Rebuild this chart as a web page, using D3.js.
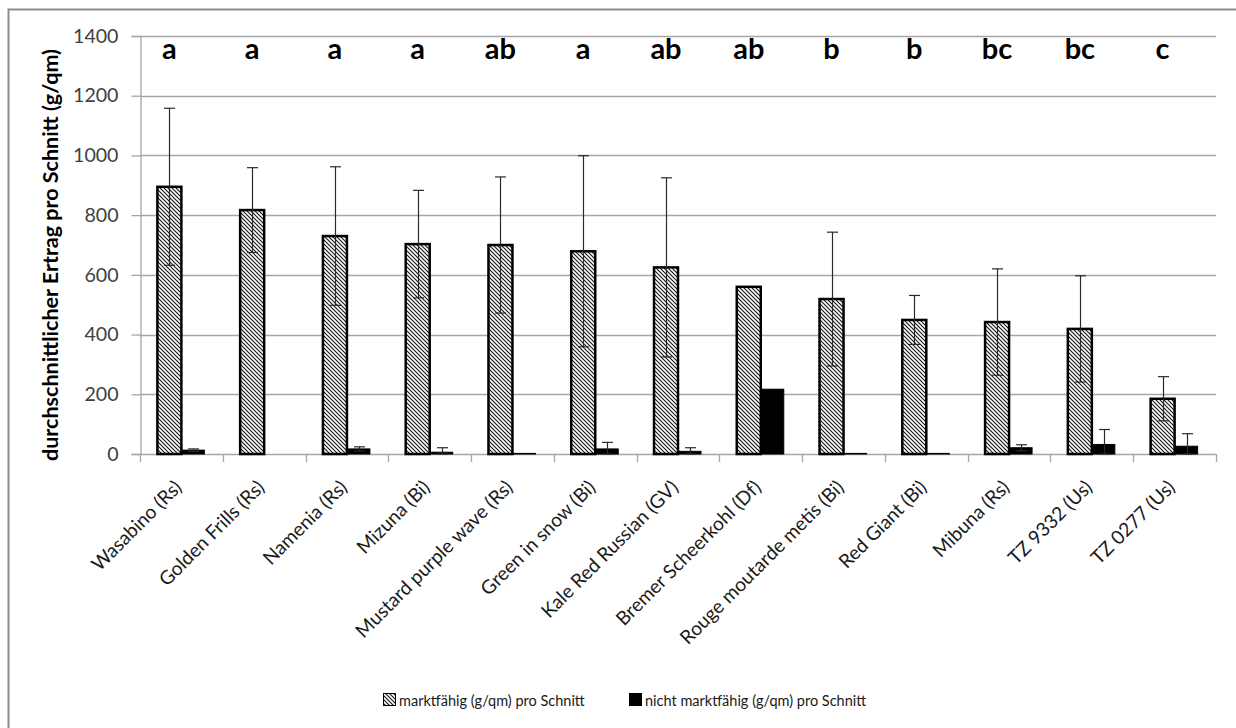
<!DOCTYPE html>
<html>
<head>
<meta charset="utf-8">
<script src="https://cdn.jsdelivr.net/npm/d3@7"></script>
<style>
  body { margin: 0; background: #fff; }
  svg { display: block; font-family: Lato, "Open Sans", sans-serif; }
</style>
</head>
<body>
<svg id="chart" width="1236" height="728"></svg>
<script>
// Sorten und Ertragswerte (g/qm pro Schnitt)
const sorten = [
  "Wasabino (Rs)", "Golden Frills (Rs)", "Namenia (Rs)", "Mizuna (Bi)",
  "Mustard purple wave (Rs)", "Green in snow (Bi)", "Kale Red Russian (GV)",
  "Bremer Scheerkohl (Df)", "Rouge moutarde metis (Bi)", "Red Giant (Bi)",
  "Mibuna (Rs)", "TZ 9332 (Us)", "TZ 0277 (Us)"
];
const marktfaehig   = [895, 817, 730, 703, 700, 679, 625, 560, 519, 449, 442, 419, 185];
const marktfaehigSD = [263, 142, 232, 180, 228, 320, 300, 0, 224, 82, 178, 178, 74];
const nichtMarktfaehig   = [13, 0, 17, 6, 2, 17, 9, 217, 2, 2, 21, 32, 26];
const nichtMarktfaehigSD = [4, 0, 7, 15, 0, 22, 12, 0, 0, 0, 10, 50, 42];
const gruppen = ["a", "a", "a", "a", "ab", "a", "ab", "ab", "b", "b", "bc", "bc", "c"];
const yTicks = [0, 200, 400, 600, 800, 1000, 1200, 1400];
const legendeText = ["marktfähig (g/qm) pro Schnitt", "nicht marktfähig (g/qm) pro Schnitt"];
const yTitel = "durchschnittlicher Ertrag pro Schnitt (g/qm)";

const svg = d3.select("#chart");
const plot = { left: 140, right: 1216, top: 36, bottom: 454 };
const barW = 24;

// Schraffur für marktfähige Erträge
const defs = svg.append("defs");
const pat = defs.append("pattern")
  .attr("id", "schraffur")
  .attr("patternUnits", "userSpaceOnUse")
  .attr("width", 4).attr("height", 4);
pat.append("rect").attr("width", 4).attr("height", 4).attr("fill", "#fff");
pat.append("path")
  .attr("d", "M-1,-1 L5,5 M-1,3 L1,5 M3,-1 L5,1")
  .attr("stroke", "#1a1a1a").attr("stroke-width", 1.2);

// Rahmen des Diagrammbereichs
svg.append("rect")
  .attr("x", 8.5).attr("y", 9.5).attr("width", 1240).attr("height", 740)
  .attr("fill", "none").attr("stroke", "#8c8c8c").attr("stroke-width", 2);

const x = d3.scaleBand().domain(sorten).range([plot.left, plot.right]);
const y = d3.scaleLinear().domain([0, 1400]).range([plot.bottom, plot.top]);

// Gitterlinien
svg.append("g")
  .selectAll("line").data(yTicks.filter(t => t > 0)).join("line")
  .attr("x1", plot.left).attr("x2", plot.right)
  .attr("y1", d => Math.round(y(d)) + 0.5).attr("y2", d => Math.round(y(d)) + 0.5)
  .attr("stroke", "#a6a6a6").attr("stroke-width", 1.3);

// Y-Achse
const yAxis = svg.append("g")
  .attr("transform", `translate(${plot.left + 0.5},0)`)
  .call(d3.axisLeft(y).tickValues(yTicks).tickSize(9).tickPadding(13).tickFormat(d3.format("d")));
yAxis.select(".domain").attr("stroke", "#a6a6a6").attr("stroke-width", 1.3);
yAxis.selectAll(".tick line").attr("stroke", "#a6a6a6").attr("stroke-width", 1.3);
yAxis.selectAll(".tick text").attr("font-size", 19.6).attr("fill", "#404040")
  .attr("font-family", "Lato, sans-serif");

// X-Achse mit Markierungen an den Kategoriegrenzen
const xg = svg.append("g");
xg.append("line")
  .attr("x1", plot.left).attr("x2", plot.right)
  .attr("y1", plot.bottom + 0.5).attr("y2", plot.bottom + 0.5)
  .attr("stroke", "#a6a6a6").attr("stroke-width", 1.3);
const grenzen = sorten.map(s => x(s)).concat([x(sorten[sorten.length - 1]) + x.bandwidth()]);
xg.selectAll("line.grenze").data(grenzen).join("line")
  .attr("class", "grenze")
  .attr("x1", d => Math.round(d) + 0.5).attr("x2", d => Math.round(d) + 0.5)
  .attr("y1", plot.bottom).attr("y2", plot.bottom + 8)
  .attr("stroke", "#a6a6a6").attr("stroke-width", 1.3);
xg.selectAll("text").data(sorten).join("text")
  .attr("transform", d => `translate(${x(d) + x.bandwidth() / 2 - 8},${plot.bottom + 25}) rotate(-45)`)
  .attr("text-anchor", "end")
  .attr("dy", "0.7em")
  .attr("font-size", 19.2)
  .attr("fill", "#1a1a1a")
  .text(d => d);

// Balken
const cx = d => x(d) + x.bandwidth() / 2;
const balken = svg.append("g");
balken.selectAll("rect.nm").data(sorten).join("rect")
  .attr("class", "nm")
  .attr("x", d => cx(d))
  .attr("width", barW - 1)
  .attr("y", (d, i) => y(nichtMarktfaehig[i]))
  .attr("height", (d, i) => y(0) - y(nichtMarktfaehig[i]))
  .attr("fill", "#000")
  .attr("stroke", (d, i) => nichtMarktfaehig[i] > 0 ? "#000" : "none")
  .attr("stroke-width", 1);
balken.selectAll("rect.m").data(sorten).join("rect")
  .attr("class", "m")
  .attr("x", d => cx(d) - barW)
  .attr("width", barW)
  .attr("y", (d, i) => y(marktfaehig[i]))
  .attr("height", (d, i) => y(0) - y(marktfaehig[i]))
  .attr("fill", "url(#schraffur)")
  .attr("stroke", "#000")
  .attr("stroke-width", 2.5);

// Fehlerbalken (Standardabweichung)
function fehlerbalken(werte, sd, versatz) {
  const g = svg.append("g").attr("stroke", "#2a2a2a").attr("stroke-width", 1.2);
  sorten.forEach((s, i) => {
    if (!sd[i]) return;
    const xm = Math.round(cx(s) + versatz) + 0.5;
    const y1 = y(Math.max(0, werte[i] - sd[i]));
    const y2 = y(werte[i] + sd[i]);
    g.append("line").attr("x1", xm).attr("x2", xm).attr("y1", y1).attr("y2", y2);
    g.append("line").attr("x1", xm - 5.5).attr("x2", xm + 5.5).attr("y1", y2).attr("y2", y2);
    g.append("line").attr("x1", xm - 5.5).attr("x2", xm + 5.5).attr("y1", y1).attr("y2", y1);
  });
}
fehlerbalken(marktfaehig, marktfaehigSD, -barW / 2);
fehlerbalken(nichtMarktfaehig, nichtMarktfaehigSD, barW / 2);

// Signifikanzgruppen
svg.append("g").selectAll("text").data(sorten).join("text")
  .attr("x", d => cx(d) - barW / 2)
  .attr("y", 59)
  .attr("text-anchor", "middle")
  .attr("font-size", 29)
  .attr("font-weight", "bold")
  .attr("fill", "#000")
  .text((d, i) => gruppen[i]);

// Achsentitel
svg.append("text")
  .attr("transform", `translate(58,${(plot.top + plot.bottom) / 2 + 10}) rotate(-90)`)
  .attr("text-anchor", "middle")
  .attr("font-size", 21.5)
  .attr("font-weight", "bold")
  .attr("fill", "#000")
  .text(yTitel);

// Legende
const leg = svg.append("g");
const legX = [383, 629];
leg.append("rect").attr("x", legX[0] + 0.5).attr("y", 693.5).attr("width", 12).attr("height", 12)
  .attr("fill", "url(#schraffur)").attr("stroke", "#000").attr("stroke-width", 1);
leg.append("rect").attr("x", legX[1]).attr("y", 693).attr("width", 13).attr("height", 13)
  .attr("fill", "#000");
leg.selectAll("text").data(legendeText).join("text")
  .attr("x", (d, i) => legX[i] + 16)
  .attr("y", 706)
  .attr("font-size", 14.5)
  .attr("fill", "#1a1a1a")
  .text(d => d);
</script>
</body>
</html>
